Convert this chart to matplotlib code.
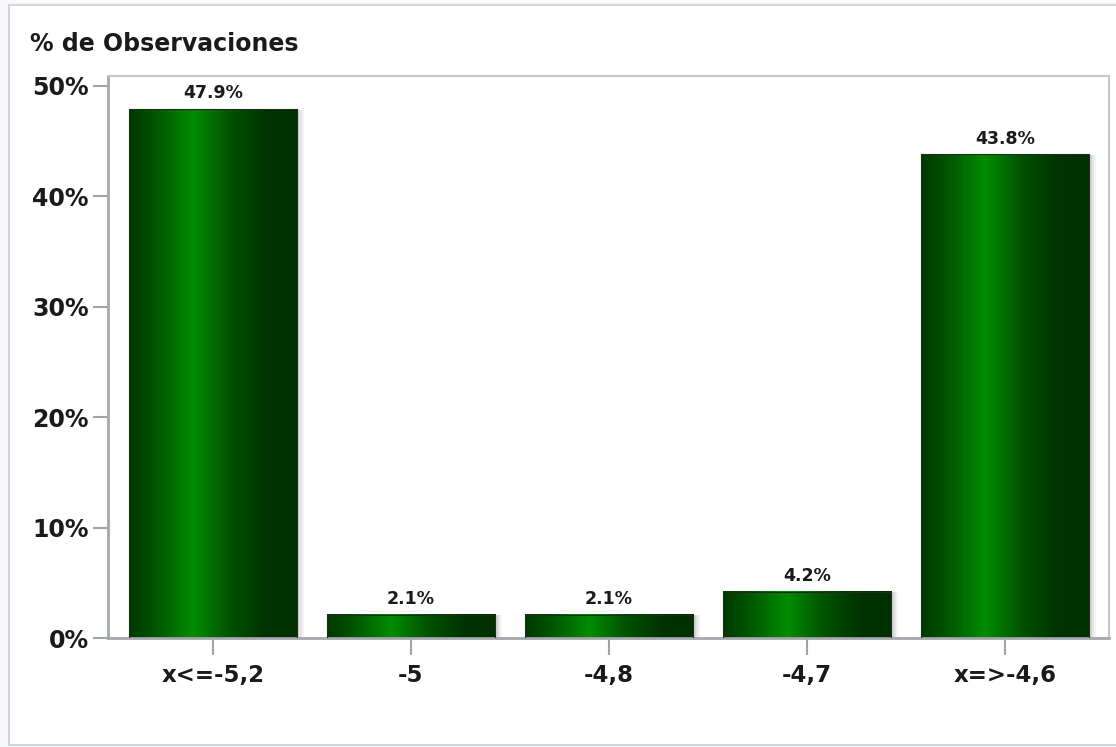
import matplotlib.pyplot as plt
import numpy as np
from matplotlib.colors import LinearSegmentedColormap
from matplotlib.patches import Rectangle

categories = ["x<=-5,2", "-5", "-4,8", "-4,7", "x=>-4,6"]
values = [47.9, 2.1, 2.1, 4.2, 43.8]
yticks = [0, 10, 20, 30, 40, 50]

W, H = 1116, 747
fig = plt.figure(figsize=(W / 100, H / 100), dpi=100, facecolor="#f8f9fc")

# outer frame
frame = Rectangle((9 / W, 1 - 745 / H), 1.0, (745 - 5) / H, transform=fig.transFigure,
                  facecolor="white", edgecolor="#d2d4d8", lw=1.5, zorder=-10)
fig.patches.append(frame)

ax = fig.add_axes([108 / W, 1 - 638 / H, (1109 - 108) / W, (638 - 76) / H])
ax.set_facecolor("white")

grad = LinearSegmentedColormap.from_list("g", [
    (0.0, "#003800"), (0.15, "#005400"), (0.38, "#008c00"), (0.6, "#005200"),
    (0.82, "#003200"), (1.0, "#003000")])
g = np.linspace(0, 1, 256).reshape(1, -1)

width = 0.85
x = np.arange(len(categories))
for xi, v in zip(x, values):
    # soft shadow on the right
    for k, a in enumerate([0.35, 0.25, 0.15]):
        ax.add_patch(Rectangle((xi - width / 2, 0), width + 0.012 * (k + 1), v - 0.05,
                               facecolor="#b8b8b8", edgecolor="none", alpha=a, zorder=1))
    ax.imshow(g, cmap=grad, aspect="auto", extent=(xi - width / 2, xi + width / 2, 0, v),
              zorder=2, interpolation="bicubic")
    ax.add_patch(Rectangle((xi - width / 2, 0), width, v, facecolor="none",
                           edgecolor="#1e2e1e", lw=0.8, zorder=3))
    ax.text(xi, v + 0.6, f"{v:.1f}%", ha="center", va="bottom", fontsize=12.5,
            fontweight="bold", color="#1a1a1a")

ax.set_xlim(-0.53, 4.525)
ax.set_ylim(0, 50.9)
ax.set_xticks(x)
ax.set_xticklabels(categories, fontsize=16.5, fontweight="bold", color="#1a1a1a")
ax.set_yticks(yticks)
ax.set_yticklabels([f"{t}%" for t in yticks], fontsize=17, fontweight="bold", color="#1a1a1a")
ax.tick_params(axis="y", length=11, width=1.5, color="#a0a4a8", pad=3)
ax.tick_params(axis="x", length=12, width=1.5, color="#a0a4a8", pad=7)

for side in ["left", "bottom"]:
    ax.spines[side].set_color("#a4a8ac")
    ax.spines[side].set_linewidth(2)
for side in ["top", "right"]:
    ax.spines[side].set_color("#c4c6c8")
    ax.spines[side].set_linewidth(1.5)

fig.text(30 / W, 1 - 44 / H, "% de Observaciones", fontsize=17, fontweight="bold",
         color="#1a1a1a", va="center", ha="left")

fig.savefig("out.png", dpi=100, facecolor=fig.get_facecolor())
